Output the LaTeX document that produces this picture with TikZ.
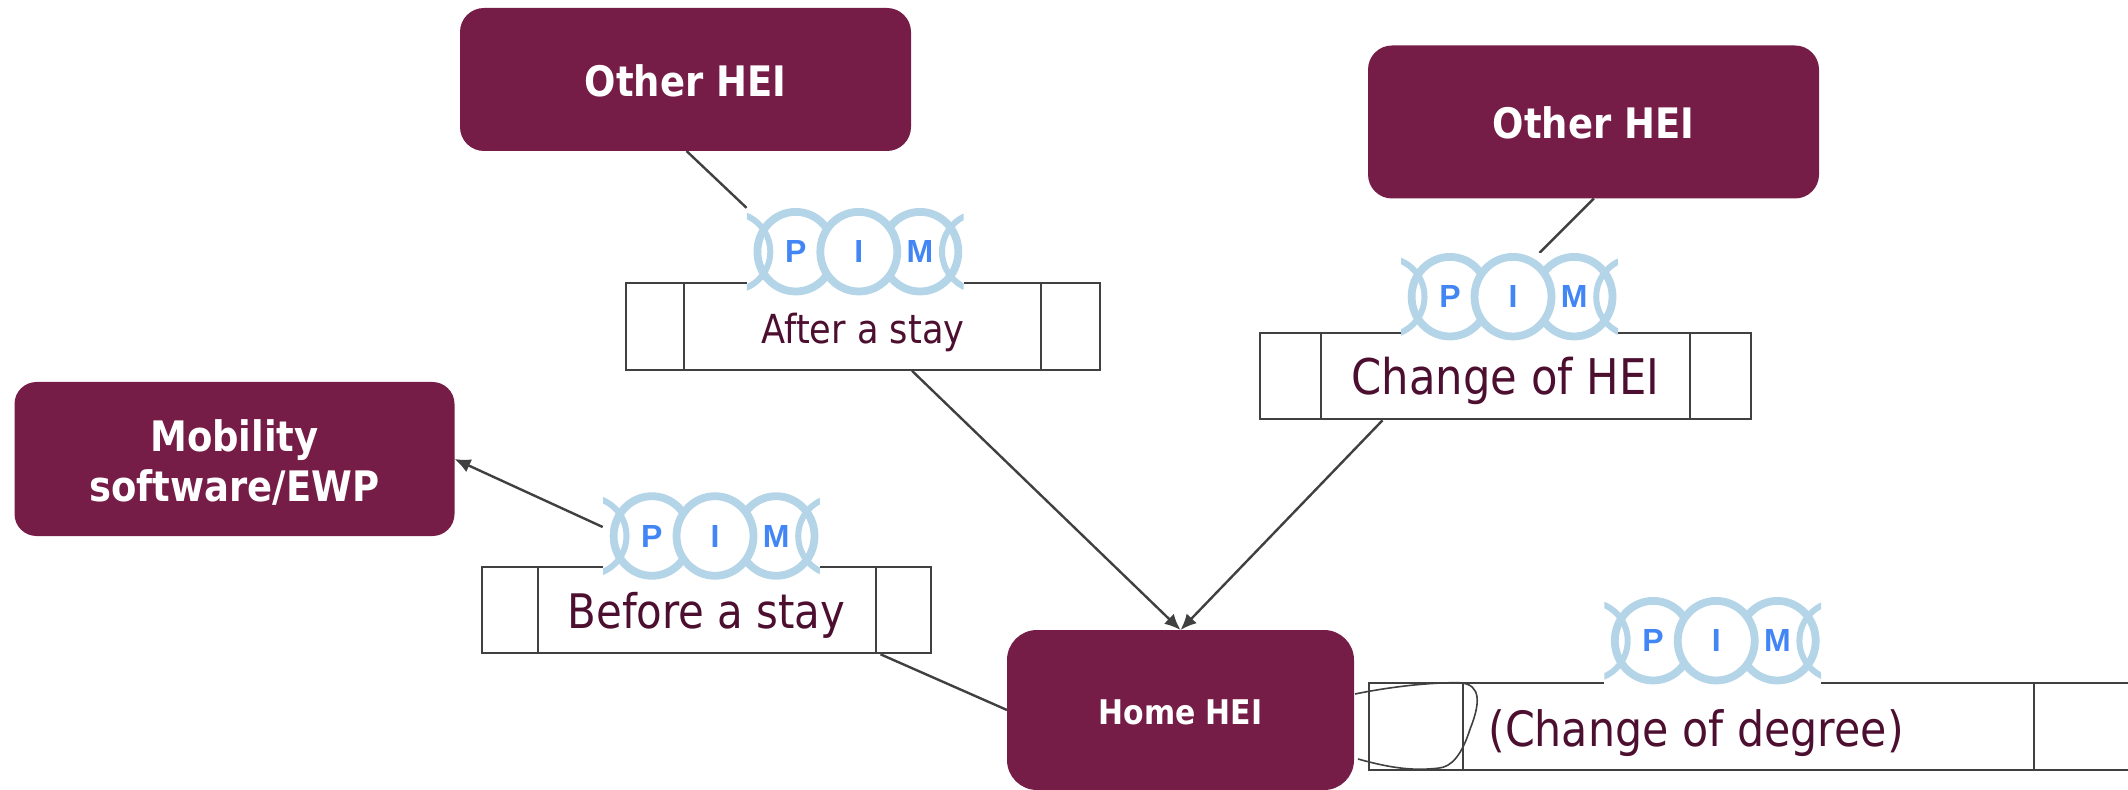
\documentclass[tikz,border=0pt]{standalone}
\usepackage{fontspec}
\setmainfont{DejaVu Sans}
\newfontfamily\tahfont[FakeStretch=0.88]{DejaVu Sans}
\newfontfamily\pimfont{Liberation Sans}
\usetikzlibrary{arrows.meta,backgrounds,calc}
\definecolor{hei}{HTML}{751C47}
\definecolor{stage}{HTML}{4D0F30}
\definecolor{wire}{HTML}{404040}
\definecolor{ring}{HTML}{B4D4E8}
\definecolor{pimblue}{HTML}{4285F4}
\tikzset{
  heibox/.style={fill=hei,inner sep=0pt,outer sep=0pt,text=white,align=center,font=\tahfont\bfseries\fontsize{21}{25}\selectfont},
  stagebox/.style={draw=wire,line width=1pt,inner sep=0pt,text=stage,text depth=0pt,minimum height=43.3pt},
  conn/.style={draw=wire,line width=1.2pt},
  arrowconn/.style={conn,-{Latex[length=8pt,width=7pt]}},
  divider/.style={draw=wire,line width=1pt},
  pimbg/.style={fill=white,inner sep=0pt,minimum width=108.4pt,minimum height=43.5pt},
  pimletter/.style={text=pimblue,inner sep=0pt,font=\pimfont\bfseries\fontsize{16}{16}\selectfont},
  ringline/.style={draw=ring,line width=3.9pt},
  thinring/.style={draw=ring,line width=3pt},
}
\newcommand{\pimmark}[3]{%
  \node[pimbg] (#1) at (#2,#3) {};
  \begin{scope}[shift={(#2,#3)}]
    \begin{scope}
      \clip (-108.4,-43.6) rectangle (108.4,43.6);
      \draw[thinring] (-124,0) circle [x radius=39,y radius=39];
      \draw[thinring] (125.7,0) circle [x radius=39,y radius=39];
      \draw[ringline] (-59.6,0) circle [x radius=38.3,y radius=39.8];
      \draw[ringline] (64.7,0) circle [x radius=38.3,y radius=39.8];
      \draw[ringline,fill=white] (3.5,0) circle [x radius=38.5,y radius=39.8];
    \end{scope}
    \node[pimletter] (#1p) at (-59.6,0) {P};
    \node[pimletter] (#1i) at (3.5,0) {I};
    \node[pimletter] (#1m) at (64.7,0) {M};
  \end{scope}}
\begin{document}
\begin{tikzpicture}[x=0.5pt,y=-0.5pt]
\useasboundingbox (0,0) rectangle (2128,790);
% HEI nodes
\node[heibox,rounded corners=12pt,minimum width=225.5pt,minimum height=71.5pt,text height=17pt,text depth=0pt] (oh1) at (685.5,79.5) {Other HEI};
\node[heibox,rounded corners=12pt,minimum width=225.5pt,minimum height=76.5pt,text height=17pt,text depth=0pt] (oh2) at (1593.5,122) {Other HEI};
\node[heibox,rounded corners=11pt,minimum width=220pt,minimum height=77pt] (mob) at (234.5,459) {\rule{0pt}{19pt}Mobility\\software/EWP};
\node[heibox,rounded corners=15pt,minimum width=173.5pt,minimum height=80pt,text height=14.5pt,text depth=0pt,font=\tahfont\bfseries\fontsize{17}{20}\selectfont] (home) at (1180.5,710) {Home HEI};
% stage boxes
\node[stagebox,minimum width=237pt,text height=17pt,font=\tahfont\fontsize{20}{24}\selectfont] (b1) at (863,326.5) {After a stay};
\node[stagebox,minimum width=245.5pt,text height=18.6pt,font=\tahfont\fontsize{24.6}{28}\selectfont] (b2) at (1505.5,376) {Change of HEI};
\node[stagebox,minimum width=224.5pt,text height=18.4pt,font=\tahfont\fontsize{23.8}{28}\selectfont] (b3) at (706.5,610) {Before a stay};
\node[stagebox,minimum width=390pt] (b4) at (1759,726.5) {};
\node[inner sep=0pt,text=stage,text depth=0pt,text height=17.5pt,font=\tahfont\fontsize{24.3}{28}\selectfont] (t4) at (1696,729) {(Change of degree)};
% dividers
\draw[divider] ([xshift=29.6pt]b1.north west) -- ([xshift=29.6pt]b1.south west);
\draw[divider] ([xshift=-29.9pt]b1.north east) -- ([xshift=-29.9pt]b1.south east);
\draw[divider] ([xshift=31pt]b2.north west) -- ([xshift=31pt]b2.south west);
\draw[divider] ([xshift=-30.8pt]b2.north east) -- ([xshift=-30.8pt]b2.south east);
\draw[divider] ([xshift=28.4pt]b3.north west) -- ([xshift=28.4pt]b3.south west);
\draw[divider] ([xshift=-28pt]b3.north east) -- ([xshift=-28pt]b3.south east);
\draw[divider] ([xshift=47.5pt]b4.north west) -- ([xshift=47.5pt]b4.south west);
\draw[divider] ([xshift=332.8pt]b4.north west) -- ([xshift=332.8pt]b4.south west);
% PIM marks
\pimmark{pa}{855.3}{251.7}
\pimmark{pb}{1509.5}{296.7}
\pimmark{pc}{711.5}{536}
\pimmark{pd}{1712.7}{640.7}
% connectors
\begin{scope}[on background layer]
\draw[conn] ([xshift=0.5pt]oh1.south) -- (pa.north west);
\draw[conn] ([xshift=0.2pt]oh2.south) -- ([xshift=15pt]pb.north);
\draw[arrowconn] ([xshift=24.5pt]b1.south) -- (home.north);
\draw[arrowconn] ([xshift=-61.5pt]b2.south) -- (home.north);
\draw[arrowconn] ([yshift=4.5pt]pc.west) -- (mob.east);
\draw[conn] (home.west) -- ([xshift=87pt]b3.south);
\end{scope}
\draw[draw=wire,line width=0.8pt] ($(home.east)+(0.5pt,8pt)$) .. controls ($(b4.north west)+(15pt,-1.5pt)$) and ($(b4.north west)+(35pt,0pt)$) .. ($(b4.north west)+(46pt,-0.3pt)$)
  .. controls ($(b4.north west)+(57pt,-1pt)$) and ($(b4.north west)+(56pt,-11pt)$) .. ($(b4.north west)+(51pt,-23.5pt)$)
  .. controls ($(b4.north west)+(47pt,-36pt)$) and ($(b4.north west)+(42pt,-42.5pt)$) .. ($(b4.north west)+(35pt,-43pt)$)
  .. controls ($(b4.north west)+(25pt,-44pt)$) and ($(b4.north west)+(15pt,-44pt)$) .. ($(home.east)+(2pt,-24.5pt)$);
\end{tikzpicture}
\end{document}
